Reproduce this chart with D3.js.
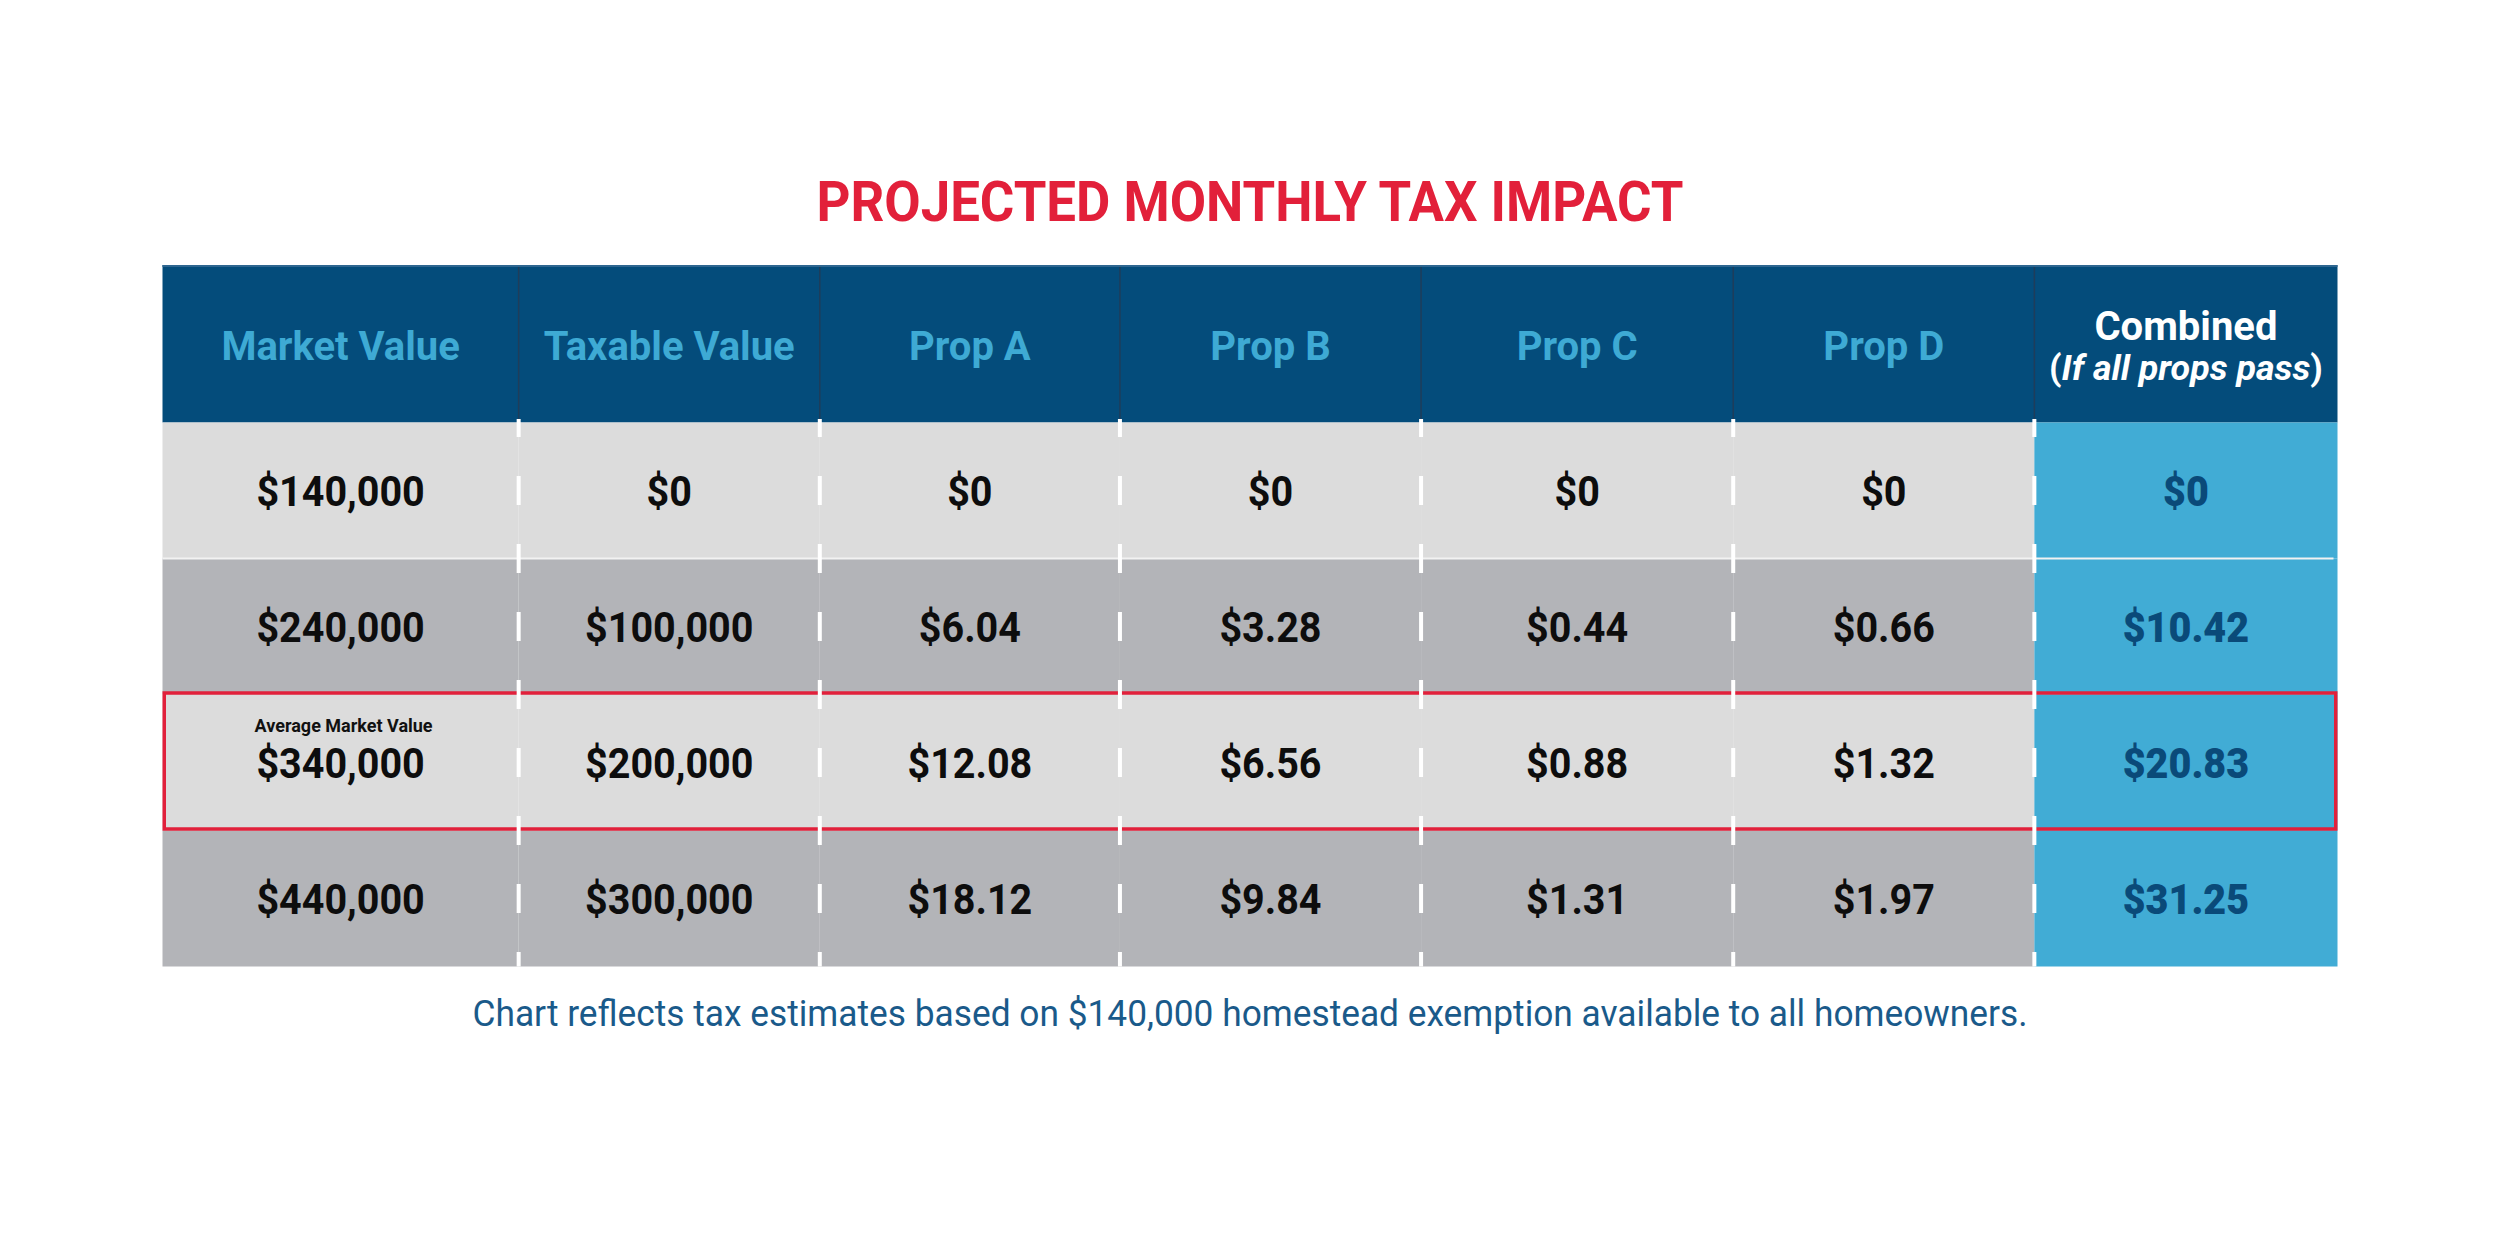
<!DOCTYPE html>
<html>
<head>
<meta charset="utf-8">
<script src="https://cdnjs.cloudflare.com/ajax/libs/d3/7.8.5/d3.min.js"></script>
<style>
  body { margin: 0; background: #fff; }
  text { font-family: Roboto, "Noto Sans", sans-serif; }
</style>
</head>
<body>
<script>
const title = "PROJECTED MONTHLY TAX IMPACT";
const note = "Chart reflects tax estimates based on $140,000 homestead exemption available to all homeowners.";
const columns = ["Market Value", "Taxable Value", "Prop A", "Prop B", "Prop C", "Prop D", "Combined"];
const combinedSub = "If all props pass";
const marketValue = [140000, 240000, 340000, 440000];
const taxableValue = [0, 100000, 200000, 300000];
const propA = [0, 6.04, 12.08, 18.12];
const propB = [0, 3.28, 6.56, 9.84];
const propC = [0, 0.44, 0.88, 1.31];
const propD = [0, 0.66, 1.32, 1.97];
const combined = [0, 10.42, 20.83, 31.25];
const highlightRow = 2;
const highlightLabel = "Average Market Value";

const series = [marketValue, taxableValue, propA, propB, propC, propD, combined];

const width = 2500, height = 1237;
// layout: relative column widths and table frame
const colWeights = [356, 301, 300, 301, 312, 301, 303];
const tableLeft = 162.5, tableRight = 2337.5;
const headTop = 265, headBottom = 422.5, tableBottom = 966.5;

const svg = d3.select("body").append("svg")
  .attr("width", width)
  .attr("height", height);

const x = d3.scaleLinear()
  .domain([0, d3.sum(colWeights)])
  .range([tableLeft, tableRight]);
const edges = Array.from(d3.cumsum(colWeights));
edges.unshift(0);
const colX = edges.map(e => x(e));

const y = d3.scaleBand()
  .domain(d3.range(marketValue.length))
  .range([headBottom, tableBottom]);

const fmt = v => v === 0 ? "$0" : Number.isInteger(v) ? d3.format("$,")(v) : d3.format("$.2f")(v);

function fit(sel, w) {
  sel.attr("textLength", w).attr("lengthAdjust", "spacingAndGlyphs");
}
// squeeze text a bit, the original face is narrower than Roboto
function condense(sel, k) {
  sel.each(function() {
    const w = this.getComputedTextLength();
    d3.select(this).attr("textLength", w * k).attr("lengthAdjust", "spacingAndGlyphs");
  });
}

// title
svg.append("text")
  .attr("x", 1250).attr("y", 220.7)
  .attr("text-anchor", "middle")
  .attr("font-size", 55).attr("font-weight", 700)
  .attr("fill", "#e2203a")
  .text(title)
  .call(fit, 867);

// header
svg.append("rect")
  .attr("x", tableLeft).attr("y", headTop)
  .attr("width", tableRight - tableLeft).attr("height", headBottom - headTop)
  .attr("fill", "#044c7b");
svg.append("line")
  .attr("x1", tableLeft).attr("x2", tableRight)
  .attr("y1", headTop + 1).attr("y2", headTop + 1)
  .attr("stroke", "#2e6690").attr("stroke-width", 2);

// body cells
const cells = [];
series.forEach((s, j) => s.forEach((v, i) => cells.push({ i, j, v })));
const last = columns.length - 1;

svg.append("g").selectAll("rect")
  .data(cells)
  .join("rect")
  .attr("x", d => colX[d.j])
  .attr("width", d => colX[d.j + 1] - colX[d.j])
  .attr("y", d => y(d.i))
  .attr("height", y.bandwidth())
  .attr("fill", d => d.j === last ? "#41acd5" : (d.i % 2 ? "#b3b4b8" : "#dcdcdc"));

// thin light rule under first row
svg.append("line")
  .attr("x1", tableLeft).attr("x2", tableRight - 4)
  .attr("y1", y(1)).attr("y2", y(1))
  .attr("stroke", "#f2f2f2").attr("stroke-width", 2);

// header dividers
svg.append("g").selectAll("line")
  .data(colX.slice(1, -1))
  .join("line")
  .attr("x1", d => d).attr("x2", d => d)
  .attr("y1", headTop + 2).attr("y2", headBottom)
  .attr("stroke", "#1f3d5a").attr("stroke-width", 1.5);

// highlight row
svg.append("rect")
  .attr("x", tableLeft + 1.75)
  .attr("y", y(highlightRow) - 1.5)
  .attr("width", tableRight - tableLeft - 3.5)
  .attr("height", y.bandwidth())
  .attr("fill", "none")
  .attr("stroke", "#e1203b").attr("stroke-width", 3.5);

// dashed column dividers in body
const half = y.bandwidth() / 2;
svg.append("g").selectAll("line")
  .data(colX.slice(1, -1))
  .join("line")
  .attr("x1", d => d).attr("x2", d => d)
  .attr("y1", headBottom - 3.5).attr("y2", tableBottom)
  .attr("stroke", "#fff").attr("stroke-width", 4)
  .attr("stroke-dasharray", `29 ${half - 29}`)
  .attr("stroke-dashoffset", 11);

// header labels
const headMid = d3.range(columns.length).map(j => (colX[j] + colX[j + 1]) / 2);
svg.append("g").selectAll("text")
  .data(columns.slice(0, -1))
  .join("text")
  .attr("x", (d, j) => headMid[j])
  .attr("y", 360)
  .attr("text-anchor", "middle")
  .attr("font-size", 40).attr("font-weight", 700)
  .attr("fill", "#3eaad4")
  .text(d => d);

svg.append("text")
  .attr("x", headMid[last]).attr("y", 340)
  .attr("text-anchor", "middle")
  .attr("font-size", 40).attr("font-weight", 700)
  .attr("fill", "#fff")
  .text(columns[last]);
const sub = svg.append("text")
  .attr("x", headMid[last]).attr("y", 380)
  .attr("text-anchor", "middle")
  .attr("font-size", 35).attr("font-weight", 700)
  .attr("fill", "#fff");
sub.append("tspan").text("(");
sub.append("tspan").attr("font-style", "italic").text(combinedSub);
sub.append("tspan").text(")");
sub.call(fit, 274);

// values
svg.append("g").selectAll("text")
  .data(cells)
  .join("text")
  .attr("x", d => headMid[d.j])
  .attr("y", d => y(d.i) + half + 15)
  .attr("text-anchor", "middle")
  .attr("font-size", 42)
  .attr("font-weight", d => d.j === last ? 900 : 700)
  .attr("fill", d => d.j === last ? "#0a4a79" : "#0d0d0d")
  .text(d => fmt(d.v))
  .call(condense, 0.94);

svg.append("text")
  .attr("x", headMid[0] + 3)
  .attr("y", y(highlightRow) + 37)
  .attr("text-anchor", "middle")
  .attr("font-size", 18).attr("font-weight", 700)
  .attr("fill", "#111")
  .text(highlightLabel);

// footnote
svg.append("text")
  .attr("x", 1250).attr("y", 1025.7)
  .attr("text-anchor", "middle")
  .attr("font-size", 36)
  .attr("fill", "#1a5a8a")
  .text(note)
  .call(fit, 1555);
</script>
</body>
</html>
